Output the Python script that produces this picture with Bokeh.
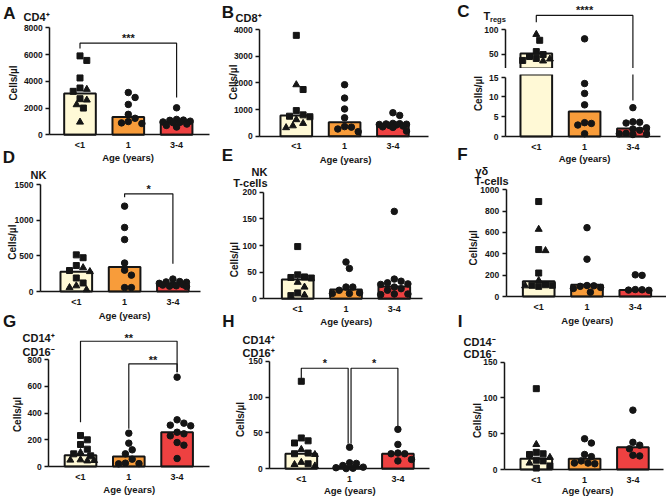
import numpy as np
from bokeh.plotting import figure
from bokeh.layouts import row, column
from bokeh.models import Range1d, FixedTicker, Label, LinearAxis, Spacer
from bokeh.embed import file_html
from bokeh.resources import INLINE

FONT = "Liberation Sans"
INK = "#151515"
CATS = ["<1", "1", "3-4"]
BAR_FILL = ["#FFF9D6", "#F89C3A", "#EE4141"]

# ---------------- data (cells/µl) ----------------
A_lt1_sq = [5900, 5560, 4250, 3500, 3250, 2700, 2000]
A_lt1_tri = [3400, 2600, 2250, 950]
A_1 = [3160, 2790, 2270, 1530, 1235, 990, 890, 840]
A_34 = [2020, 1150, 1100, 1080, 1020, 960, 930, 900, 800, 700, 580]
A_bar = [3090, 1330, 960]

B_lt1_sq = [3780, 1750, 960, 800, 750, 730]
B_lt1_tri = [1930, 620, 480, 390, 320]
B_1 = [1930, 1430, 1020, 690, 360, 340, 270, 170]
B_34 = [880, 780, 480, 470, 460, 450, 440, 420, 400, 380, 350, 330, 190]
B_bar = [775, 525, 440]

C_lt1_sq = [78, 55, 49, 45, 41, 37]
C_lt1_tri = [90, 40, 36]
C_1 = [81, 13.4, 10.9, 8.0, 3.5, 3.3, 2.9, 0.7]
C_34 = [7.3, 3.7, 3.6, 3.4, 2.2, 1.9, 1.6, 0.8, 0.7, 0.6, 0.5]
C_bar = [51, 6.3, 2.0]

D_lt1_sq = [515, 475, 365, 295, 190, 120]
D_lt1_tri = [335, 280, 80, 55, 25]
D_1 = [1200, 900, 730, 400, 300, 230, 55, 55]
D_34 = [175, 140, 135, 130, 115, 100, 95, 90, 80, 75, 70]
D_bar = [277, 345, 98]

E_lt1_sq = [98, 45, 41, 40, 39, 11, 6]
E_lt1_tri = [31, 22, 7]
E_1 = [69, 57, 22, 22, 16, 11, 10, 10]
E_34 = [164, 37, 33, 30, 28, 27, 22, 19, 16, 9, 9, 8]
E_bar = [36, 17.5, 23]

F_lt1_sq = [890, 440, 220, 110, 105, 105, 95]
F_lt1_tri = [630, 430, 150, 100]
F_1 = [645, 350, 103, 100, 95, 85, 75, 40]
F_34 = [203, 198, 65, 63, 60, 58]
F_bar = [144, 109, 60]

G_lt1_sq = [232, 200, 165, 130, 95, 80]
G_lt1_tri = [105, 50, 48, 45, 42]
G_1 = [250, 175, 125, 95, 55, 25, 22, 20]
G_34 = [670, 350, 325, 310, 305, 257, 245, 230, 180, 160, 60]
G_bar = [85, 75, 257]

H_lt1_sq = [122, 43, 39, 36, 22, 21, 7]
H_lt1_tri = [27, 20, 9, 6, 4]
H_1 = [30, 8.4, 7.5, 4.6, 2.3, 1.5, 0.8, 0.3]
H_34 = [55, 34, 22, 21, 21, 13, 11]
H_bar = [21, 3, 21]

I_lt1_sq = [113, 24, 22, 21, 13, 12, 5, 2]
I_lt1_tri = [35, 17, 9]
I_1 = [43, 37, 21, 18, 12, 9, 9, 8]
I_34 = [83, 38, 34, 29, 20, 19]
I_bar = [15, 15, 31]

# ---------------- layout geometry (page px) ----------------
STEP = 48.3          # px between category centres
BAR_W = 0.655        # in category units
COL_L = [0, 218, 440]
COL_W = [218, 222, 226]


class Panel:
    pass


def style_axis(ax, size):
    ax.minor_tick_line_color = None
    ax.axis_line_width = 1.5
    ax.axis_line_color = INK
    ax.major_label_text_font = FONT
    ax.major_label_text_font_style = "bold"
    ax.major_label_text_font_size = size
    ax.major_label_text_color = INK


def make_panel(col, top, H, axis_x, axis_end, c1, y_zero, y_at, v_at, ticks,
               v0=0.0, show_x=True, overrides=None):
    W = COL_W[col]
    cl = COL_L[col]
    xs = 1 - (c1 - cl) / STEP
    xe = xs + W / STEP
    x_axis_val = xs + (axis_x - cl) / STEP
    x_end_val = xs + (min(axis_end, cl + W) - cl) / STEP
    ppu = (y_zero - y_at) / (v_at - v0)
    ye = v0 + (y_zero - top) / ppu
    ys = v0 - (top + H - y_zero) / ppu
    p = figure(width=W, height=H, x_range=Range1d(xs, xe), y_range=Range1d(ys, ye),
               output_backend="svg", toolbar_location=None, tools="",
               min_border_left=0, min_border_right=0, min_border_top=0, min_border_bottom=0,
               x_axis_location=None, y_axis_location=None)
    p.grid.visible = False
    p.outline_line_color = None

    yax = LinearAxis(fixed_location=x_axis_val, ticker=FixedTicker(ticks=ticks),
                     bounds=(v0, ticks[-1]))
    style_axis(yax, "8.5px")
    yax.major_tick_out = 4
    yax.major_tick_in = 0
    yax.major_tick_line_width = 1.5
    yax.major_tick_line_color = INK
    yax.major_label_standoff = 3
    if overrides:
        yax.major_label_overrides = overrides
    p.add_layout(yax, "left")

    if show_x:
        xax = LinearAxis(fixed_location=v0, ticker=FixedTicker(ticks=[1, 2, 3]),
                         bounds=(x_axis_val, x_end_val))
        style_axis(xax, "9px")
        xax.major_label_overrides = {1: CATS[0], 2: CATS[1], 3: CATS[2]}
        xax.major_tick_out = 0
        xax.major_tick_in = 0
        xax.major_tick_line_color = None
        xax.major_label_standoff = 5
        p.add_layout(xax, "below")

    P = Panel()
    P.p, P.cl, P.top, P.H, P.ppu, P.v0 = p, cl, top, H, ppu, v0
    return P


def swarm(px, d=6.8, step=3.4, cap=15.0):
    px = np.asarray(px, dtype=float)
    order = np.argsort(-px, kind="stable")
    cands = [0.0]
    k = 1
    while k * step <= cap + 1e-9:
        cands += [k * step, -k * step]
        k += 1
    placed, offs = [], np.zeros(len(px))
    for i in order:
        y = px[i]
        best, bestd = 0.0, -1.0
        for c in cands:
            md = min([np.hypot(c - ox, y - oy) for ox, oy in placed], default=1e9)
            if md >= d:
                best = c
                break
            if md > bestd:
                bestd, best = md, c
        offs[i] = best
        placed.append((best, y))
    return offs


def draw_data(P, sq, tri, g1, g34, bars, to_px=None):
    p = P.p
    if to_px is None:
        to_px = lambda v: np.asarray(v, dtype=float) * P.ppu
    keep = [k for k in range(3) if bars[k] > P.v0]
    p.vbar(x=[k + 1 for k in keep], top=[bars[k] for k in keep], bottom=0, width=BAR_W,
           fill_color=[BAR_FILL[k] for k in keep], line_color=INK, line_width=2)
    lt1 = list(sq) + list(tri)
    off = swarm(to_px(lt1)) / STEP
    n = len(sq)
    p.scatter(x=1 + off[:n], y=sq, marker="square", size=6, color=INK)
    p.scatter(x=1 + off[n:], y=tri, marker="triangle", size=7, color=INK)
    for k, g in ((2, g1), (3, g34)):
        o = swarm(to_px(g)) / STEP
        p.scatter(x=k + o, y=g, marker="circle", size=6.5, color=INK)


def bracket(P, x1, x2, ytop, yl, yr):
    P.p.multi_line(xs=[[x1, x1, x2, x2]], ys=[[yl, ytop, ytop, yr]], line_color=INK,
                   line_width=1.2)


def star(P, text, xmid, yval):
    P.p.add_layout(Label(x=xmid, y=yval, text=text, text_font=FONT, text_font_style="bold",
                         text_font_size="11px", text_color=INK, text_align="center",
                         text_baseline="middle", y_offset=-2.5))


def txt(P, ox, oy, text, size, align="center", angle=0.0):
    sx = ox - P.cl
    sy = (P.top + P.H) - oy
    P.p.add_layout(Label(x=sx, y=sy, x_units="screen", y_units="screen", text=text,
                         text_font=FONT, text_font_style="bold",
                         text_font_size=f"{size}px", text_color=INK, text_align=align,
                         text_baseline="middle", angle=angle))


# ---------------- panels ----------------
PA = make_panel(0, 0, 167, 49.3, 209, 79.5, 134.3, 27.3, 8000, [0, 2000, 4000, 6000, 8000])
PB = make_panel(1, 0, 165, 259.3, 428.3, 295.8, 135.7, 29, 4000, [0, 1000, 2000, 3000, 4000])
PCt = make_panel(2, 0, 68, 505, 660, 535.8, 68.3, 29, 100, [20, 50, 100], v0=20,
                 show_x=False, overrides={20: ""})
PCb = make_panel(2, 74, 90, 505, 660, 535.8, 136, 76.7, 15, [0, 5, 10, 15])
PD = make_panel(0, 167, 164, 40, 200, 75.8, 291, 184.3, 1500, [0, 500, 1000, 1500])
PE = make_panel(1, 165, 166, 263.3, 421.7, 297.2, 298.3, 191.7, 200, [0, 50, 100, 150, 200])
PF = make_panel(2, 164, 167, 505.7, 667, 538.2, 296, 189.3, 1000, [0, 200, 400, 600, 800, 1000])
PG = make_panel(0, 331, 165, 48.3, 209.3, 80, 466, 359.3, 800, [0, 200, 400, 600, 800])
PH = make_panel(1, 331, 165, 269.3, 429.3, 300.8, 468.3, 360.7, 150, [0, 50, 100, 150])
PI = make_panel(2, 331, 165, 504, 663, 535.8, 469, 361.7, 150, [0, 50, 100, 150])

draw_data(PA, A_lt1_sq, A_lt1_tri, A_1, A_34, A_bar)
draw_data(PB, B_lt1_sq, B_lt1_tri, B_1, B_34, B_bar)


def c_px(vals):
    v = np.asarray(vals, dtype=float)
    low = v * PCb.ppu
    up = (136 - 68.3) + (v - 20) * PCt.ppu
    return np.where(v <= 16, low, up)


draw_data(PCt, C_lt1_sq, C_lt1_tri, C_1, C_34, C_bar, to_px=c_px)
draw_data(PCb, C_lt1_sq, C_lt1_tri, C_1, C_34, C_bar, to_px=c_px)
draw_data(PD, D_lt1_sq, D_lt1_tri, D_1, D_34, D_bar)
draw_data(PE, E_lt1_sq, E_lt1_tri, E_1, E_34, E_bar)
draw_data(PF, F_lt1_sq, F_lt1_tri, F_1, F_34, F_bar)
draw_data(PG, G_lt1_sq, G_lt1_tri, G_1, G_34, G_bar)
draw_data(PH, H_lt1_sq, H_lt1_tri, H_1, H_34, H_bar)
draw_data(PI, I_lt1_sq, I_lt1_tri, I_1, I_34, I_bar)

# significance brackets
bracket(PA, 1, 3, 6850, 6450, 2790); star(PA, "***", 2, 7424)
bracket(PCt, 1, 3, 128.7, 115, 0); star(PCt, "****", 2, 143.8)
bracket(PCb, 3, 3, 30, 30, 9.1)
bracket(PD, 2, 3, 1373, 1326, 389); star(PD, "*", 2.5, 1483)
bracket(PG, 1, 3, 939, 332, 707); star(PG, "**", 2, 982)
bracket(PG, 2, 3, 770, 283, 707); star(PG, "**", 2.5, 815)
bracket(PH, 1, 1.97, 140.2, 125.5, 34.9); star(PH, "*", 1.49, 151)
bracket(PH, 2.03, 3, 140.2, 34.9, 57.6); star(PH, "*", 2.51, 151)

# panel letters (each drawn on the canvas that holds its position)
for P, (x, y, t) in ((PA, (9, 13, "A")), (PB, (227.5, 11.5, "B")), (PCt, (463, 10.5, "C")),
                     (PA, (8.5, 156.5, "D")), (PB, (227, 155, "E")), (PCb, (462, 154, "F")),
                     (PD, (9, 321, "G")), (PE, (228, 321, "H")), (PF, (459.5, 321, "I"))):
    txt(P, x, y, t, 17)

# panel titles
txt(PA, 23, 16, "CD4⁺", 11, align="left")
txt(PB, 235, 17, "CD8⁺", 11, align="left")
txt(PCt, 483, 15, "T", 11, align="left")
txt(PCt, 489.5, 18.5, "regs", 7.5, align="left")
txt(PD, 30, 174, "NK", 11, align="left")
txt(PE, 267, 171.5, "NK", 11, align="right")
txt(PE, 267, 182.5, "T-cells", 11, align="right")
txt(PF, 475, 170.5, "γδ", 11, align="left")
txt(PF, 474, 180.5, "T-cells", 11, align="left")
txt(PG, 22, 337.8, "CD14⁺", 11, align="left")
txt(PG, 22, 351.5, "CD16⁻", 11, align="left")
txt(PH, 242, 339, "CD14⁺", 11, align="left")
txt(PH, 242, 352.5, "CD16⁺", 11, align="left")
txt(PI, 463, 341, "CD14⁻", 11, align="left")
txt(PI, 463, 353, "CD16⁻", 11, align="left")

# axis titles
ROT = np.pi / 2
for P, (x, y) in ((PA, (13, 82.5)), (PB, (233.3, 81.7)), (PCb, (478, 93)), (PD, (11.7, 241.7)),
                  (PE, (234, 259.2)), (PF, (473.3, 247.3)), (PG, (16.7, 414)), (PH, (240, 419)),
                  (PI, (477.3, 420))):
    txt(P, x, y, "Cells/µl", 10, angle=ROT)
for P, (x, y) in ((PA, (127.5, 156.5)), (PB, (345, 159.3)), (PCb, (584, 158.3)), (PD, (124, 315)),
                  (PE, (345.7, 321)), (PF, (586.7, 319.5)), (PG, (128.7, 489)),
                  (PH, (349.3, 490)), (PI, (587, 490))):
    txt(P, x, y, "Age (years)", 9.5)

layout = row(column(PA.p, PD.p, PG.p), column(PB.p, PE.p, PH.p),
             column(PCt.p, Spacer(width=COL_W[2], height=6), PCb.p, PF.p, PI.p))

with open("out.html", "w") as f:
    f.write(file_html(layout, INLINE))
